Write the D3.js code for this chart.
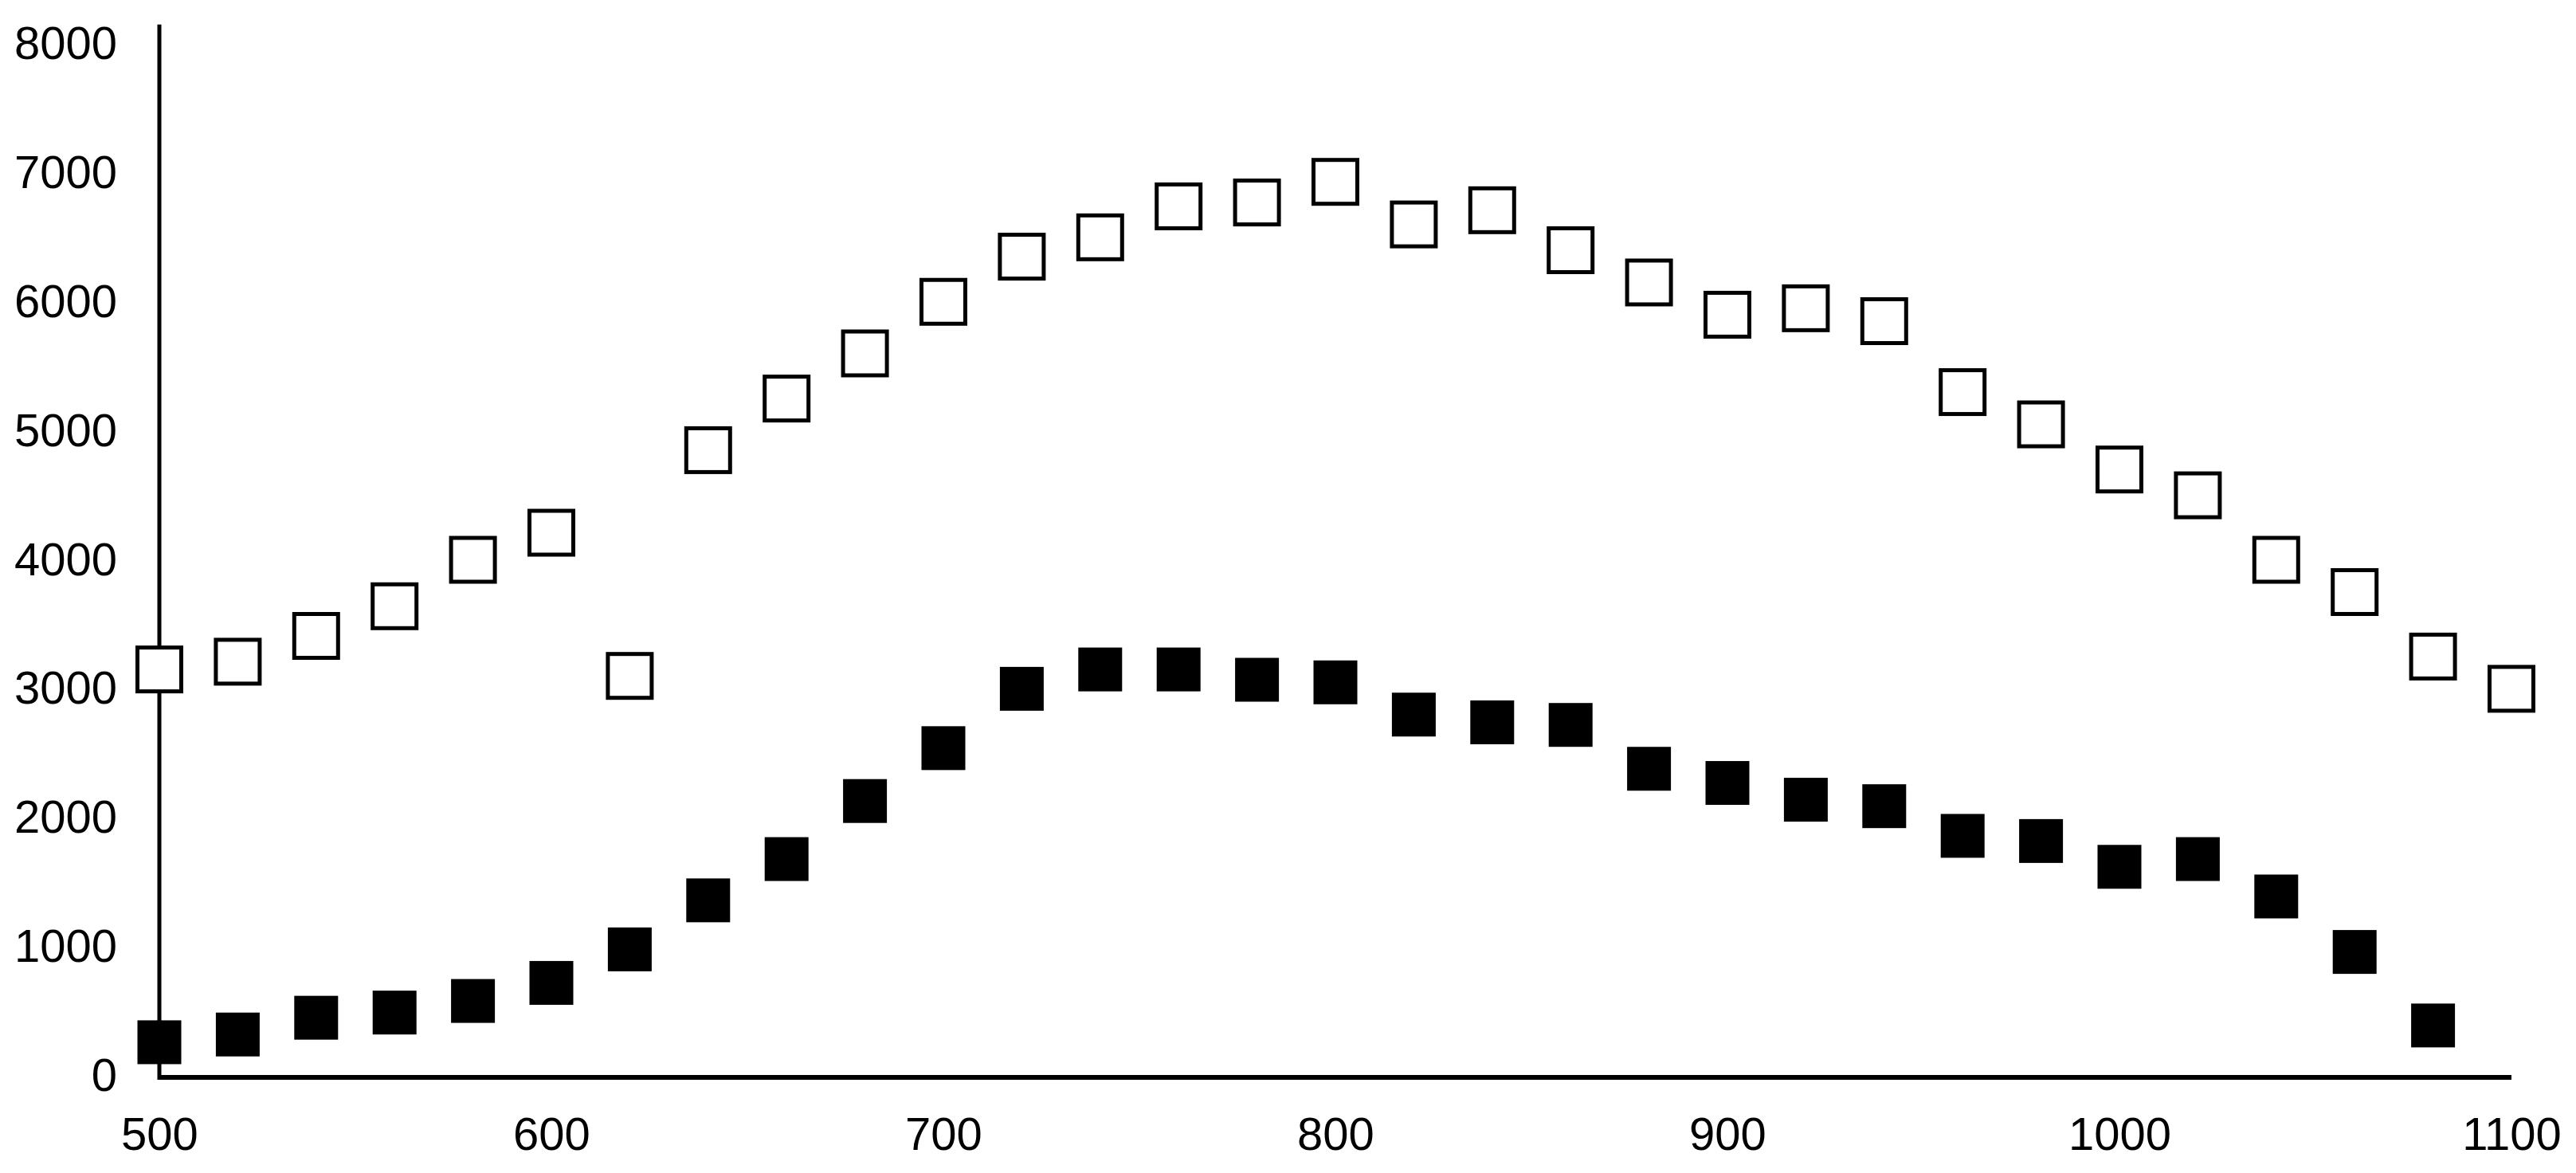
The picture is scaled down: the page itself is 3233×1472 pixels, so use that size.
<!DOCTYPE html>
<html>
<head>
<meta charset="utf-8">
<script src="https://cdn.jsdelivr.net/npm/d3@7"></script>
<style>
  html, body { margin: 0; padding: 0; background: #fff; }
  svg { display: block; }
  .axis text { font-family: "Liberation Sans", Arial, sans-serif; font-size: 58px; fill: #000; }
</style>
</head>
<body>
<div class="chart-wrapper"></div>
<script>
// x positions (wavelength-like steps of 20)
const xValues = [500, 520, 540, 560, 580, 600, 620, 640, 660, 680, 700, 720, 740, 760, 780, 800,
  820, 840, 860, 880, 900, 920, 940, 960, 980, 1000, 1020, 1040, 1060, 1080, 1100];

// open squares
const openValues = [3150, 3210, 3410, 3640, 4000, 4210, 3100, 4850, 5250, 5600, 6000, 6350, 6500,
  6740, 6770, 6930, 6600, 6710, 6400, 6150, 5900, 5950, 5850, 5300, 5050, 4700, 4500, 4000, 3750,
  3250, 3000];

// filled squares (no point at 1100)
const filledValues = [260, 320, 450, 490, 580, 720, 980, 1360, 1680, 2130, 2540, 3000, 3150, 3150,
  3070, 3050, 2800, 2740, 2720, 2380, 2270, 2140, 2090, 1860, 1820, 1620, 1680, 1390, 960, 390];

const xTicks = [500, 600, 700, 800, 900, 1000, 1100];
const yTicks = [0, 1000, 2000, 3000, 4000, 5000, 6000, 7000, 8000];

const width = 3233, height = 1472;
const markSize = 55;

const svg = d3.select(".chart-wrapper")
  .append("svg")
  .attr("width", width)
  .attr("height", height);

const x = d3.scaleLinear().domain([500, 1100]).range([200, 3152]);
const y = d3.scaleLinear().domain([0, 8000]).range([1350, 55]);
const yAxisTop = 8150; // the axis line runs a little past the top label

// y axis labels
svg.append("g")
  .attr("class", "axis")
  .attr("transform", `translate(${x(500)},0)`)
  .call(d3.axisLeft(y).tickValues(yTicks).tickSize(0).tickPadding(53).tickFormat(d3.format("d")))
  .call(g => g.select(".domain").remove());

// x axis labels
svg.append("g")
  .attr("class", "axis")
  .attr("transform", `translate(0,${y(0) + 2})`)
  .call(d3.axisBottom(x).tickValues(xTicks).tickSize(0).tickPadding(50).tickFormat(d3.format("d")))
  .call(g => g.select(".domain").remove());

// axis lines
svg.append("line")
  .attr("x1", x(500)).attr("x2", x(500))
  .attr("y1", y(yAxisTop)).attr("y2", y(0) + 5)
  .style("stroke", "#000")
  .style("stroke-width", 5);

svg.append("line")
  .attr("x1", x(500) - 2).attr("x2", x(1100))
  .attr("y1", y(0) + 2).attr("y2", y(0) + 2)
  .style("stroke", "#000")
  .style("stroke-width", 6);

// open squares
svg.append("g")
  .selectAll("rect")
  .data(openValues)
  .enter()
  .append("rect")
  .attr("x", (d, i) => x(xValues[i]) - markSize / 2)
  .attr("y", d => y(d) - markSize / 2)
  .attr("width", markSize)
  .attr("height", markSize)
  .style("fill", "#fff")
  .style("stroke", "#000")
  .style("stroke-width", 5);

// filled squares
svg.append("g")
  .selectAll("rect")
  .data(filledValues)
  .enter()
  .append("rect")
  .attr("x", (d, i) => x(xValues[i]) - markSize / 2)
  .attr("y", d => y(d) - markSize / 2)
  .attr("width", markSize)
  .attr("height", markSize)
  .style("fill", "#000");
</script>
</body>
</html>
